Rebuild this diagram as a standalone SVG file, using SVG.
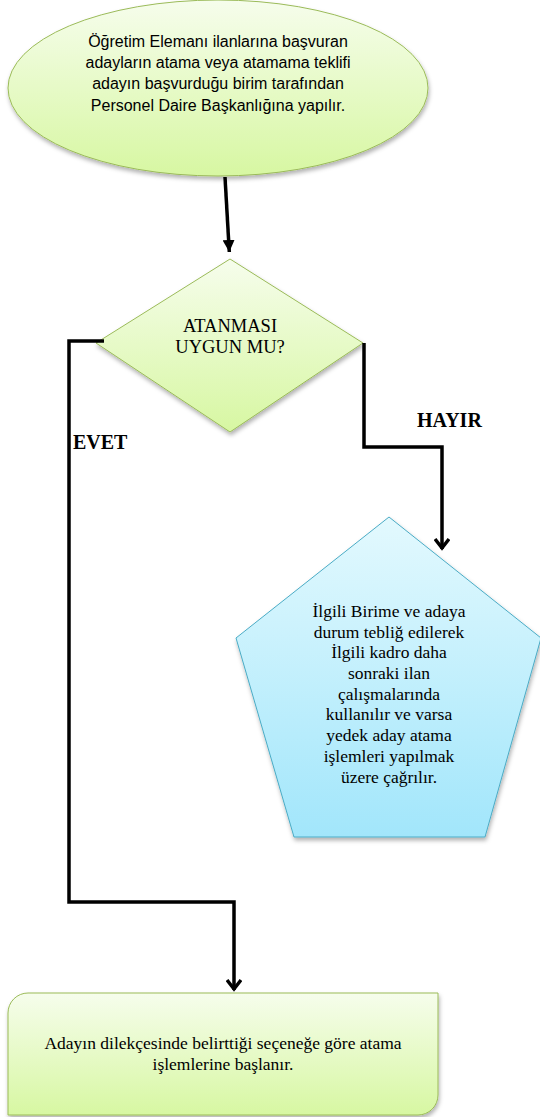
<svg xmlns="http://www.w3.org/2000/svg" width="540" height="1117" viewBox="0 0 540 1117">
<style>
.conn{fill:none;stroke:#000;stroke-width:3.5;stroke-linejoin:miter}
.t1{font-family:"Liberation Sans",Arial,sans-serif;font-size:16px;fill:#000;text-anchor:middle}
.t2{font-family:"Liberation Serif","Times New Roman",serif;font-size:17.5px;fill:#000;text-anchor:middle}
.t3{font-family:"Liberation Serif","Times New Roman",serif;font-size:18.5px;fill:#000;text-anchor:middle}
.lbl{font-family:"Liberation Serif","Times New Roman",serif;font-size:20px;font-weight:bold;fill:#000}
</style>
<defs>
<linearGradient id="gG" x1="0" y1="0" x2="0" y2="1"><stop offset="0" stop-color="#f6fdec"/><stop offset="1" stop-color="#d7f7a2"/></linearGradient>
<linearGradient id="gB" x1="0" y1="0" x2="0" y2="1"><stop offset="0" stop-color="#e3f9fe"/><stop offset="1" stop-color="#a2e6fb"/></linearGradient>
<filter id="sh" x="-10%" y="-10%" width="120%" height="130%"><feDropShadow dx="1" dy="3" stdDeviation="2" flood-color="#000" flood-opacity="0.3"/></filter>
<marker id="arr" viewBox="0 0 14 16" refX="12" refY="8" markerWidth="14" markerHeight="16" markerUnits="userSpaceOnUse" orient="auto">
<path d="M2,1 L11,8 L2,15" fill="none" stroke="#000" stroke-width="3.5"/>
</marker>
<marker id="tri" viewBox="0 0 12 12" refX="12" refY="6" markerWidth="12" markerHeight="12" markerUnits="userSpaceOnUse" orient="auto">
<path d="M0,0 L12,6 L0,12 Z" fill="#000"/>
</marker>
</defs>
<g id="node-start">
<ellipse cx="218" cy="88" rx="210" ry="88" fill="url(#gG)" stroke="#9bbb59" stroke-width="1" filter="url(#sh)"/>
<text class="t1" x="218" y="47">Öğretim Elemanı ilanlarına başvuran</text>
<text class="t1" x="218" y="68">adayların atama veya atamama teklifi</text>
<text class="t1" x="218" y="89">adayın başvurduğu birim tarafından</text>
<text class="t1" x="218" y="111">Personel Daire Başkanlığına yapılır.</text>
</g>
<g id="node-decision">
<polygon points="230,259 363,343 230,432 96,343" fill="url(#gG)" stroke="#9bbb59" stroke-width="1" filter="url(#sh)"/>
<text class="t3" x="230" y="332">ATANMASI</text>
<text class="t3" x="230" y="353">UYGUN MU?</text>
</g>
<g id="node-no">
<polygon points="389,517 541,638 485,837 294,837 236,638" fill="url(#gB)" stroke="#4bacc6" stroke-width="1" filter="url(#sh)"/>
<text class="t2" x="389" y="617">İlgili Birime ve adaya</text>
<text class="t2" x="389" y="638">durum tebliğ edilerek</text>
<text class="t2" x="389" y="658">İlgili kadro daha</text>
<text class="t2" x="389" y="679">sonraki ilan</text>
<text class="t2" x="389" y="700">çalışmalarında</text>
<text class="t2" x="389" y="720">kullanılır ve varsa</text>
<text class="t2" x="389" y="741">yedek aday atama</text>
<text class="t2" x="389" y="762">işlemleri yapılmak</text>
<text class="t2" x="389" y="783">üzere çağrılır.</text>
</g>
<g id="node-yes">
<path d="M28,993 H438 V1095 A20,20 0 0 1 418,1115 H8 V1013 A20,20 0 0 1 28,993 Z" fill="url(#gG)" stroke="#9bbb59" stroke-width="1" filter="url(#sh)"/>
<text class="t2" x="223" y="1049">Adayın dilekçesinde belirttiği seçeneğe göre atama</text>
<text class="t2" x="223" y="1070">işlemlerine başlanır.</text>
</g>
<g id="connectors">
<path class="conn" d="M225,177 L229.3,252" marker-end="url(#tri)"/>
<path class="conn" d="M104,341 H69 V902 H234 V990" marker-end="url(#arr)"/>
<path class="conn" d="M364,343 V447 H442 V549" marker-end="url(#arr)"/>
<text class="lbl" x="73" y="449">EVET</text>
<text class="lbl" x="417" y="427">HAYIR</text>
</g>
</svg>
